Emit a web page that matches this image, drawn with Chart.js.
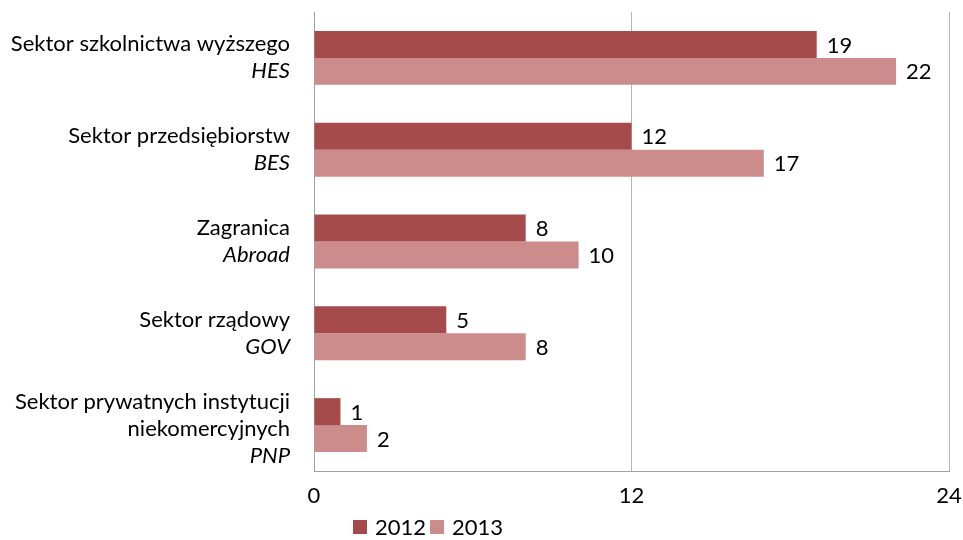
<!DOCTYPE html>
<html>
<head>
<meta charset="utf-8">
<script src="https://cdn.jsdelivr.net/npm/chart.js@4"></script>
<style>
  html, body { margin: 0; padding: 0; background: #fff; }
  #wrap { width: 963px; height: 540px; position: relative; }
</style>
</head>
<body>
<div id="wrap"><canvas id="myChart"></canvas></div>
<script>
// category labels: polish lines (regular) + english code (italic)
const catPl = [
  ['Sektor szkolnictwa wyższego'],
  ['Sektor przedsiębiorstw'],
  ['Zagranica'],
  ['Sektor rządowy'],
  ['Sektor prywatnych instytucji', 'niekomercyjnych']
];
const catEn = ['HES', 'BES', 'Abroad', 'GOV', 'PNP'];
const years = ['2012', '2013'];
const vals2012 = [19, 12, 8, 5, 1];
const vals2013 = [22, 17, 10, 8, 2];
const xTicks = [0, 12, 24];

const FONT = 'Lato, "Open Sans", sans-serif';
const FSIZE = 22;
const col2012 = 'rgb(166, 75, 76)';
const col2013 = 'rgb(204, 140, 140)';
const gridCol = '#b4b4b4';

// draws the two-style category labels left of the axis
const catLabels = {
  id: 'catLabels',
  afterDraw(chart) {
    const ctx = chart.ctx;
    const y = chart.scales.y;
    const right = chart.chartArea.left - 24;
    const lh = 27;
    ctx.save();
    ctx.fillStyle = '#000';
    ctx.textAlign = 'right';
    ctx.textBaseline = 'middle';
    catPl.forEach(function(lines, i) {
      const all = lines.length + 1;
      const cy = y.getPixelForValue(i) + (all > 2 ? 4 : 0);
      let ty = cy - (all - 1) * lh / 2;
      lines.forEach(function(t) {
        ctx.font = FSIZE + 'px ' + FONT;
        ctx.fillText(t, right, ty);
        ty += lh;
      });
      ctx.font = 'italic ' + FSIZE + 'px ' + FONT;
      ctx.fillText(catEn[i], right, ty);
    });
    ctx.restore();
  }
};

// value labels right of the bars
const valueLabels = {
  id: 'valueLabels',
  afterDatasetsDraw(chart) {
    const ctx = chart.ctx;
    ctx.save();
    ctx.fillStyle = '#000';
    ctx.font = FSIZE + 'px ' + FONT;
    ctx.textAlign = 'left';
    ctx.textBaseline = 'middle';
    chart.data.datasets.forEach(function(ds, di) {
      chart.getDatasetMeta(di).data.forEach(function(bar, i) {
        ctx.fillText(ds.data[i], bar.x + 10, bar.y + 1);
      });
    });
    ctx.restore();
  }
};

// legend squares placed like the original
const legendBox = {
  id: 'legendBox',
  afterDraw(chart) {
    const ctx = chart.ctx;
    const cols = [col2012, col2013];
    const xs = [353, 430];
    ctx.save();
    ctx.font = FSIZE + 'px ' + FONT;
    ctx.textBaseline = 'middle';
    ctx.textAlign = 'left';
    years.forEach(function(yr, i) {
      ctx.fillStyle = cols[i];
      ctx.fillRect(xs[i], 520, 14, 14);
      ctx.fillStyle = '#000';
      ctx.fillText(yr, xs[i] + 22, 528);
    });
    ctx.restore();
  }
};

const ctx = document.getElementById('myChart').getContext('2d');
const myChart = new Chart(ctx, {
  type: 'bar',
  data: {
    labels: catEn,
    datasets: [
      { label: years[0], data: vals2012, backgroundColor: col2012 },
      { label: years[1], data: vals2013, backgroundColor: col2013 }
    ]
  },
  options: {
    indexAxis: 'y',
    responsive: true,
    maintainAspectRatio: false,
    animation: false,
    datasets: { bar: { categoryPercentage: 0.587, barPercentage: 1.0 } },
    layout: { padding: { top: 12, right: 14, left: 0, bottom: 0 } },
    plugins: {
      legend: { display: false },
      tooltip: { enabled: false }
    },
    scales: {
      x: {
        min: 0, max: 24,
        afterBuildTicks: function(s) { s.ticks = xTicks.map(function(v) { return { value: v }; }); },
        afterFit: function(s) { s.height = 69; s.paddingLeft = 0; s.paddingRight = 0; },
        grid: { color: gridCol, drawTicks: false },
        border: { display: true, color: '#a0a0a0', width: 1 },
        ticks: { color: '#000', font: { family: FONT, size: FSIZE }, padding: 12 }
      },
      y: {
        afterFit: function(s) { s.width = 314; },
        grid: { display: false, drawTicks: false },
        border: { display: true, color: '#a0a0a0', width: 1 },
        ticks: { display: false }
      }
    }
  },
  plugins: [catLabels, valueLabels, legendBox]
});
</script>
</body>
</html>
